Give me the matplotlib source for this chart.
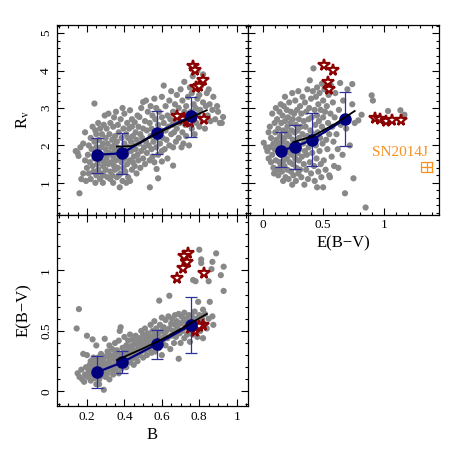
import matplotlib
matplotlib.use("Agg")
import matplotlib.pyplot as plt
from matplotlib.ticker import MultipleLocator

plt.rcParams['font.family'] = ['Liberation Serif', 'DejaVu Serif']
plt.rcParams['mathtext.fontset'] = 'stix'

# ---------------- data ----------------
# binned means
bin_B = [0.255, 0.388, 0.572, 0.758]
bin_Rv = [1.75, 1.79, 2.34, 2.78]
bin_Rv_lo = [1.26, 1.24, 1.76, 2.23]
bin_Rv_hi = [2.20, 2.33, 2.92, 3.30]
bin_E = [0.16, 0.24, 0.39, 0.55]
bin_E_lo = [0.03, 0.15, 0.27, 0.32]
bin_E_hi = [0.29, 0.33, 0.51, 0.78]
bin_E2 = [0.15, 0.27, 0.41, 0.68]
bin_Rv2 = [1.86, 1.97, 2.15, 2.70]
bin_Rv2_lo = [1.42, 1.37, 1.46, 1.98]
bin_Rv2_hi = [2.35, 2.55, 2.87, 3.44]

# model curves (black)
mod_B = [0.36, 0.44, 0.48, 0.57, 0.76, 0.84]
mod_Rv = [1.97, 1.98, 2.06, 2.31, 2.76, 2.94]
mod_B2 = [0.36, 0.50, 0.60, 0.70, 0.84]
mod_E = [0.26, 0.355, 0.43, 0.515, 0.64]
mod_E3 = [0.255, 0.41, 0.50, 0.60, 0.76]
mod_Rv3 = [2.09, 2.24, 2.40, 2.58, 2.92]

# star objects
star_B = [0.767, 0.775, 0.82, 0.78, 0.80, 0.74, 0.72, 0.735, 0.715, 0.68, 0.826, 0.749]
star_E = [0.54, 0.50, 0.55, 0.53, 0.54, 1.14, 1.12, 1.07, 1.02, 0.94, 0.98, 0.52]
star_Rv = [4.13, 4.01, 3.74, 3.55, 3.58, 2.67, 2.72, 2.65, 2.70, 2.78, 2.70, 2.62]
star_E_tr = [0.507, 0.58, 0.54, 0.55, 0.926, 0.967, 1.02, 1.07, 1.14]
star_Rv_tr = [4.15, 4.01, 3.70, 3.52, 2.74, 2.71, 2.65, 2.67, 2.69]

# SN2014J
sn_E, sn_Rv, sn_Eerr, sn_Rverr = 1.353, 1.41, 0.045, 0.134

# gray sample: top-left (B, Rv)
tl_pts = [
(0.14,1.85),(0.15,1.80),(0.155,1.72),(0.16,0.72),(0.165,1.95),(0.17,1.10),(0.18,1.25),(0.18,2.05),(0.19,2.35),(0.19,1.60),(0.195,1.05),(0.2,1.40),
(0.205,1.75),(0.21,2.0),(0.21,1.25),(0.215,1.55),(0.22,2.2),(0.22,1.1),(0.225,1.9),(0.23,2.5),(0.23,1.45),(0.235,1.3),(0.24,3.12),(0.24,2.1),(0.24,1.65),(0.245,1.0),(0.245,2.4),(0.25,1.2),(0.25,1.95),(0.25,2.3),
(0.255,1.5),(0.26,2.6),(0.26,1.35),(0.265,1.8),(0.265,2.15),(0.27,1.1),(0.27,2.45),(0.275,1.6),(0.275,1.95),(0.28,1.25),(0.28,2.3),(0.285,1.45),(0.285,2.05),(0.29,1.2),(0.29,1.75),(0.29,2.55),(0.295,2.8),(0.295,1.55),(0.3,1.35),(0.3,2.2),(0.3,1.9),(0.285,1.0),
(0.305,1.65),(0.305,2.45),(0.31,1.15),(0.31,2.05),(0.315,1.5),(0.315,2.85),(0.32,1.8),(0.32,2.3),(0.325,1.3),(0.325,2.6),(0.33,1.55),(0.33,1.95),(0.335,1.2),(0.335,2.15),(0.34,1.7),(0.34,2.5),(0.34,1.0),(0.345,1.45),(0.345,2.75),(0.35,1.85),(0.35,2.25),(0.35,1.35),(0.31,1.75),(0.325,1.1),(0.345,2.0),
(0.355,1.6),(0.355,2.9),(0.36,1.15),(0.36,2.1),(0.365,1.4),(0.365,2.55),(0.37,1.75),(0.37,2.35),(0.375,0.88),(0.375,1.9),(0.38,1.25),(0.38,2.7),(0.385,1.55),(0.385,2.2),(0.39,1.05),(0.39,3.0),(0.39,1.85),(0.395,1.4),(0.395,2.45),(0.4,1.65),(0.4,2.05),(0.4,2.85),(0.37,1.2),(0.385,1.65),(0.36,1.95),
(0.405,1.3),(0.41,2.3),(0.41,1.75),(0.415,2.6),(0.415,1.5),(0.42,1.95),(0.42,1.15),(0.425,2.45),(0.43,2.94),(0.43,1.6),(0.435,2.1),(0.435,1.85),(0.44,1.35),(0.44,2.7),(0.445,2.25),(0.445,1.55),(0.45,2.0),(0.45,1.7),(0.42,2.2),(0.43,1.05),(0.44,2.5),(0.41,1.0),
(0.455,2.62),(0.455,1.45),(0.46,1.9),(0.46,2.35),(0.465,1.25),(0.465,2.15),(0.47,1.75),(0.47,2.8),(0.475,1.6),(0.475,2.5),(0.48,2.05),(0.48,2.76),(0.485,1.4),(0.485,2.3),(0.49,1.85),(0.49,3.0),(0.495,2.2),(0.5,3.16),(0.5,1.65),(0.5,2.45),
(0.505,1.95),(0.51,2.65),(0.51,1.5),(0.515,3.2),(0.515,2.1),(0.52,1.8),(0.52,2.4),(0.525,2.9),(0.536,0.88),(0.53,2.0),(0.535,1.6),(0.535,2.6),(0.54,2.25),(0.54,3.05),(0.545,1.9),(0.545,2.45),(0.55,1.7),(0.55,2.8),
(0.555,2.1),(0.56,3.25),(0.56,1.55),(0.565,2.35),(0.565,2.7),(0.57,1.95),(0.57,3.0),(0.575,2.2),(0.58,1.75),(0.58,2.55),(0.585,2.9),(0.59,2.05),(0.572,1.37),(0.595,2.4),(0.6,2.75),(0.6,3.3),(0.6,1.85),(0.58,1.12),(0.6,1.57),
(0.605,2.2),(0.61,2.6),(0.61,3.6),(0.615,1.9),(0.62,2.4),(0.62,3.05),(0.625,2.15),(0.63,2.8),(0.63,1.65),(0.635,2.5),(0.64,3.2),(0.64,2.0),(0.645,2.7),(0.65,2.3),(0.65,3.45),(0.66,1.46),
(0.655,2.55),(0.66,2.9),(0.66,1.95),(0.665,2.35),(0.67,3.1),(0.67,2.65),(0.675,2.1),(0.68,3.35),(0.68,2.45),(0.685,2.8),(0.69,2.2),(0.69,3.0),(0.695,2.6),(0.7,3.5),(0.705,1.95),
(0.705,2.75),(0.71,2.35),(0.71,3.2),(0.715,2.05),(0.72,2.9),(0.72,3.7),(0.725,2.55),(0.73,3.05),(0.73,2.25),(0.735,2.85),(0.74,3.3),(0.74,2.6),(0.745,2.0),(0.75,3.55),
(0.755,2.9),(0.76,2.45),(0.76,3.4),(0.765,3.85),(0.77,2.7),(0.77,3.1),(0.775,2.3),(0.78,3.0),(0.785,2.6),(0.79,3.25),(0.79,4.0),(0.795,2.85),(0.8,2.5),(0.8,3.35),
(0.805,2.95),(0.81,3.6),(0.815,2.7),(0.82,3.15),(0.82,3.9),(0.83,2.45),(0.835,3.05),(0.84,3.4),(0.845,2.8),(0.85,3.5),
(0.855,3.1),(0.86,2.65),(0.87,2.95),(0.875,3.3),(0.885,2.7),(0.9,2.9),(0.91,2.6),(0.927,2.76),(0.92,2.6),(0.895,3.05),
]

# gray sample: top-right (E(B-V), Rv)
tr_pts = [
(0.01,2.07),(0.04,1.85),(0.05,2.35),(0.05,1.65),(0.03,1.95),
(0.06,2.5),(0.07,1.55),(0.07,2.2),(0.08,1.75),(0.08,2.85),(0.09,1.4),(0.09,2.05),(0.1,2.6),(0.1,1.9),(0.095,1.25),(0.06,1.95),
(0.105,2.35),(0.11,1.6),(0.11,3.0),(0.115,2.15),(0.12,1.35),(0.12,2.7),(0.125,1.85),(0.13,2.45),(0.13,1.2),(0.135,2.0),(0.14,1.55),(0.14,2.9),(0.145,2.25),(0.15,1.75),(0.15,3.1),(0.15,1.45),(0.12,2.05),
(0.155,2.6),(0.16,1.3),(0.16,2.1),(0.165,1.9),(0.165,2.8),(0.17,1.05),(0.17,2.4),(0.175,1.6),(0.175,3.05),(0.18,2.2),(0.18,1.45),(0.185,2.65),(0.19,1.8),(0.19,1.15),(0.195,2.35),(0.2,2.95),(0.2,1.65),(0.2,2.05),(0.185,3.3),(0.175,1.95),
(0.205,1.35),(0.205,2.5),(0.21,2.75),(0.21,1.9),(0.215,1.1),(0.22,2.25),(0.22,3.15),(0.225,1.55),(0.23,2.0),(0.23,2.6),(0.235,1.3),(0.235,2.9),(0.24,1.75),(0.24,2.4),(0.245,0.95),(0.245,3.4),(0.25,2.15),(0.25,1.5),(0.25,2.7),(0.225,1.8),
(0.255,1.2),(0.26,2.85),(0.26,1.95),(0.265,2.35),(0.27,1.65),(0.27,3.2),(0.275,1.05),(0.275,2.55),(0.28,2.1),(0.28,1.4),(0.285,2.95),(0.29,1.8),(0.29,2.4),(0.295,1.25),(0.295,3.45),(0.3,2.2),(0.3,1.6),(0.3,2.7),
(0.305,1.9),(0.31,3.05),(0.31,1.35),(0.315,2.5),(0.32,1.15),(0.32,2.85),(0.325,1.7),(0.33,2.3),(0.33,3.3),(0.335,2.05),(0.34,1.5),(0.34,2.65),(0.345,0.95),(0.35,2.15),(0.35,3.15),(0.35,1.85),
(0.355,2.5),(0.36,1.35),(0.36,2.9),(0.365,1.75),(0.37,3.5),(0.37,2.25),(0.375,1.1),(0.38,2.7),(0.38,1.95),(0.385,3.0),(0.39,3.74),(0.39,1.55),(0.395,2.4),(0.4,1.25),(0.4,3.25),(0.4,2.1),
(0.405,2.75),(0.41,1.8),(0.415,3.45),(0.42,4.06),(0.42,2.3),(0.425,1.45),(0.43,2.95),(0.43,1.05),(0.435,2.55),(0.44,3.3),(0.44,2.0),(0.445,1.65),(0.45,0.88),(0.45,2.8),(0.45,3.55),
(0.455,2.35),(0.46,1.3),(0.46,3.1),(0.465,2.65),(0.47,1.85),(0.47,3.4),(0.475,2.2),(0.48,1.5),(0.48,2.95),(0.485,1.15),(0.49,2.5),(0.49,3.65),(0.495,2.05),(0.5,0.88),(0.5,3.2),(0.5,2.75),
(0.505,1.6),(0.51,2.4),(0.51,3.5),(0.515,2.9),(0.52,1.35),(0.525,2.15),(0.53,3.05),(0.535,1.9),(0.54,2.6),(0.545,3.35),(0.55,1.2),(0.55,2.3),
(0.556,1.15),(0.56,2.85),(0.565,3.6),(0.57,1.7),(0.575,2.5),(0.58,3.15),(0.585,2.1),(0.59,1.45),(0.595,2.75),(0.6,3.4),
(0.61,2.3),(0.62,1.9),(0.625,1.40),(0.63,2.95),(0.64,3.67),(0.645,2.55),(0.66,1.75),(0.665,3.2),(0.68,0.72),(0.69,2.45),(0.7,3.5),
(0.72,2.0),(0.74,3.64),(0.74,3.1),(0.75,1.12),(0.76,2.6),(0.79,2.67),
(0.817,2.82),(0.85,0.34),(0.9,3.34),(0.91,3.2),(1.035,2.92),(1.137,2.94),(1.17,2.82),
]

# gray sample: bottom-left (B, E(B-V))
bl_pts = [
(0.145,0.52),(0.157,0.68),(0.15,0.15),(0.16,0.12),(0.17,0.18),(0.18,0.31),(0.175,0.1),(0.19,0.14),(0.2,0.46),(0.195,0.2),(0.185,0.08),
(0.2,0.3),(0.205,0.12),(0.21,0.17),(0.215,0.22),(0.22,0.09),(0.22,0.25),(0.225,0.14),(0.23,0.19),(0.235,0.28),(0.24,0.11),(0.24,0.22),(0.245,0.16),(0.25,0.38),(0.25,0.06),(0.25,0.25),(0.23,0.43),
(0.255,0.13),(0.26,0.2),(0.26,0.28),(0.265,0.1),(0.27,0.17),(0.27,0.24),(0.275,0.31),(0.28,0.13),(0.28,0.2),(0.285,0.26),(0.29,0.014),(0.29,0.16),(0.29,0.22),(0.295,0.435),(0.3,0.12),(0.3,0.29),(0.3,0.19),(0.265,0.06),
(0.305,0.23),(0.31,0.15),(0.31,0.33),(0.315,0.2),(0.32,0.26),(0.32,0.1),(0.325,0.3),(0.33,0.18),(0.33,0.22),(0.335,0.35),(0.34,0.14),(0.34,0.27),(0.345,0.21),(0.35,0.31),(0.35,0.18),(0.35,0.4),(0.32,0.38),
(0.355,0.25),(0.36,0.2),(0.36,0.34),(0.365,0.28),(0.37,0.15),(0.37,0.42),(0.375,0.24),(0.38,0.31),(0.38,0.53),(0.385,0.19),(0.39,0.27),(0.39,0.36),(0.395,0.22),(0.4,0.33),(0.4,0.29),(0.4,0.45),(0.375,0.5),
(0.405,0.25),(0.41,0.38),(0.41,0.2),(0.415,0.32),(0.42,0.28),(0.42,0.42),(0.425,0.35),(0.43,0.24),(0.43,0.47),(0.435,0.31),(0.44,0.38),(0.44,0.27),(0.445,0.43),(0.45,0.34),(0.45,0.22),(0.45,0.3),
(0.455,0.39),(0.46,0.28),(0.46,0.46),(0.465,0.33),(0.47,0.41),(0.47,0.25),(0.475,0.36),(0.48,0.44),(0.48,0.3),(0.485,0.38),(0.49,0.5),(0.49,0.33),(0.495,0.42),(0.5,0.36),(0.5,0.28),(0.5,0.47),
(0.505,0.4),(0.51,0.34),(0.51,0.52),(0.515,0.44),(0.52,0.3),(0.52,0.38),(0.525,0.48),(0.53,0.41),(0.535,0.35),(0.54,0.55),(0.54,0.45),(0.545,0.32),(0.55,0.42),(0.55,0.5),
(0.555,0.38),(0.56,0.46),(0.56,0.58),(0.565,0.33),(0.57,0.43),(0.57,0.52),(0.575,0.4),(0.58,0.48),(0.585,0.36),(0.586,0.75),(0.59,0.55),(0.595,0.44),(0.6,0.5),(0.6,0.61),(0.6,0.3),
(0.605,0.42),(0.61,0.53),(0.615,0.47),(0.62,0.59),(0.62,0.38),(0.625,0.5),(0.63,0.44),(0.635,0.62),(0.64,0.79),(0.64,0.52),(0.645,0.35),(0.65,0.56),(0.65,0.46),
(0.655,0.6),(0.66,0.5),(0.665,0.4),(0.67,0.63),(0.67,0.55),(0.675,0.45),(0.68,0.58),(0.685,0.52),(0.69,0.27),(0.69,0.64),(0.695,0.48),(0.7,0.56),(0.7,0.4),
(0.705,0.62),(0.71,0.5),(0.715,0.58),(0.72,0.44),(0.72,0.65),(0.725,0.53),(0.73,0.6),(0.735,0.47),(0.74,0.56),(0.745,0.63),(0.75,0.5),(0.75,0.41),
(0.755,0.58),(0.76,0.62),(0.765,0.47),(0.767,0.92),(0.77,0.55),(0.775,0.66),(0.78,0.91),(0.78,0.52),(0.785,0.6),(0.79,0.45),(0.794,0.74),(0.8,1.17),(0.8,0.57),(0.8,0.63),
(0.805,0.5),(0.81,1.09),(0.81,1.06),(0.815,0.6),(0.82,0.675),(0.82,0.44),(0.825,0.56),(0.83,0.64),(0.84,0.52),(0.85,0.91),(0.85,0.6),
(0.856,0.74),(0.865,1.01),(0.87,0.62),(0.875,0.55),(0.87,1.07),(0.89,1.14),(0.915,0.96),(0.93,0.83),(0.93,1.03),
]

tl_B = [p[0] for p in tl_pts]; tl_Rv = [p[1] for p in tl_pts]
tr_E = [p[0] for p in tr_pts]; tr_Rv = [p[1] for p in tr_pts]
bl_B = [p[0] for p in bl_pts]; bl_E = [p[1] for p in bl_pts]

# ---------------- style ----------------
GRAY = '#888888'
NAVY = '#00007f'
EBAR = '#30309a'
STAR = '#8b0000'
ORANGE = '#f7901e'

fig = plt.figure(figsize=(4.63, 4.63), dpi=100)
W, H = 0.4125, 0.4095
ax1 = fig.add_axes([0.1231, 0.5365, W, H])
ax2 = fig.add_axes([0.5356, 0.5365, W, H])
ax3 = fig.add_axes([0.1231, 0.1231, W, 0.4134])

def style(ax, xmaj, xmin, ymaj, ymin):
    ax.xaxis.set_major_locator(MultipleLocator(xmaj))
    ax.xaxis.set_minor_locator(MultipleLocator(xmin))
    ax.yaxis.set_major_locator(MultipleLocator(ymaj))
    ax.yaxis.set_minor_locator(MultipleLocator(ymin))
    ax.tick_params(which='both', direction='in', top=True, right=True, width=0.8, labelsize=9.5)
    ax.tick_params(which='major', length=5)
    ax.tick_params(which='minor', length=2.5)
    for s in ax.spines.values():
        s.set_linewidth(0.9)

def draw_bins(ax, x, y, lo, hi):
    yerr = [[yi - l for yi, l in zip(y, lo)], [h - yi for yi, h in zip(y, hi)]]
    ax.errorbar(x, y, yerr=yerr, fmt='none', ecolor=EBAR, elinewidth=0.9, capsize=4.5, capthick=0.9, zorder=3)
    ax.plot(x, y, '-', color=NAVY, lw=1.6, zorder=4)
    ax.plot(x, y, 'o', color=NAVY, ms=8, zorder=5)

ms_star = 8.5
S_GRAY = 20

# top-left: B vs Rv
ax1.scatter(tl_B, tl_Rv, s=S_GRAY, color=GRAY, edgecolors='none', zorder=1)
ax1.plot(star_B, star_Rv, '*', ms=ms_star, mfc='white', mec=STAR, mew=1.6, ls='none', zorder=2)
draw_bins(ax1, bin_B, bin_Rv, bin_Rv_lo, bin_Rv_hi)
ax1.plot(mod_B, mod_Rv, '-', color='black', lw=1.3, zorder=6)
ax1.set_xlim(0.04, 1.06)
ax1.set_ylim(0.15, 5.22)
style(ax1, 0.2, 0.05, 1, 0.2)
ax1.tick_params(labelbottom=False)
for t in ax1.get_yticklabels():
    t.set_rotation(90); t.set_va('center')
ax1.set_ylabel(r'R$_{\rm v}$', fontsize=12, labelpad=6)

# top-right: E(B-V) vs Rv
ax2.scatter(tr_E, tr_Rv, s=S_GRAY, color=GRAY, edgecolors='none', zorder=1)
ax2.plot(star_E_tr, star_Rv_tr, '*', ms=ms_star, mfc='white', mec=STAR, mew=1.6, ls='none', zorder=2)
draw_bins(ax2, bin_E2, bin_Rv2, bin_Rv2_lo, bin_Rv2_hi)
ax2.plot(mod_E3, mod_Rv3, '-', color='black', lw=1.3, zorder=6)
ax2.errorbar([sn_E], [sn_Rv], xerr=[sn_Eerr], fmt='none', ecolor=ORANGE, elinewidth=0.9, capsize=3.6, capthick=0.9)
ax2.errorbar([sn_E], [sn_Rv], yerr=[sn_Rverr], fmt='none', ecolor=ORANGE, elinewidth=0.9, capsize=4.0, capthick=0.9)
ax2.text(0.90, 1.80, 'SN2014J', color=ORANGE, fontsize=11, ha='left', va='center')
ax2.set_xlim(-0.12, 1.455)
ax2.set_ylim(0.15, 5.22)
style(ax2, 0.5, 0.1, 1, 0.2)
ax2.tick_params(labelleft=False)
ax2.set_xticks([0, 0.5, 1])
ax2.set_xticklabels(['0', '0.5', '1'])
ax2.set_xlabel('E(B\u2212V)', fontsize=12, labelpad=3)

# bottom-left: B vs E(B-V)
ax3.scatter(bl_B, bl_E, s=S_GRAY, color=GRAY, edgecolors='none', zorder=1)
ax3.plot(star_B, star_E, '*', ms=ms_star, mfc='white', mec=STAR, mew=1.6, ls='none', zorder=2)
draw_bins(ax3, bin_B, bin_E, bin_E_lo, bin_E_hi)
ax3.plot(mod_B2, mod_E, '-', color='black', lw=1.3, zorder=6)
ax3.set_xlim(0.04, 1.06)
ax3.set_ylim(-0.12, 1.46)
style(ax3, 0.2, 0.05, 0.5, 0.1)
ax3.set_xticks([0.2, 0.4, 0.6, 0.8, 1.0])
ax3.set_xticklabels(['0.2', '0.4', '0.6', '0.8', '1'])
ax3.set_yticks([0, 0.5, 1])
ax3.set_yticklabels(['0', '0.5', '1'])
for t in ax3.get_yticklabels():
    t.set_rotation(90); t.set_va('center')
ax3.set_xlabel('B', fontsize=12, labelpad=3)
ax3.set_ylabel('E(B\u2212V)', fontsize=12, labelpad=6)

fig.savefig('out.png', dpi=100)
